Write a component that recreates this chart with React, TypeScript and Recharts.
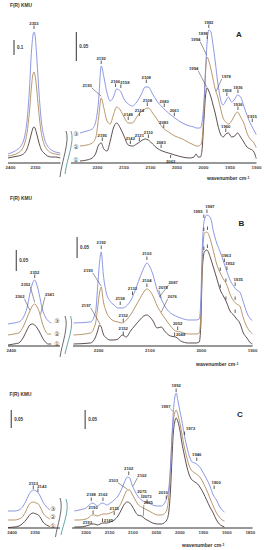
import React from 'react';
import { ComposedChart, Line, XAxis, YAxis, ReferenceLine, ReferenceDot } from 'recharts';

const BLUE = '#7f8ce0';
const BROWN = '#b08b5b';
const DARK = '#4d3b3b';
const INK = '#333';
const FONT = '"Liberation Sans", Arial, sans-serif';

// intensities are heights above each panel's baseline (arbitrary F(R) units, 0.05 ~ 21-29)

// ---- panel A ----
const aLeftWn = [2405, 2395, 2385, 2378, 2372, 2367, 2362, 2358, 2355, 2353, 2351, 2348, 2344, 2339, 2333, 2326, 2318, 2310, 2300];
const aLeft3 = [9, 11, 14, 18, 26, 42, 75, 112, 128, 131, 128, 110, 78, 45, 26, 17, 13, 11, 10];
const aLeft2 = [7, 8, 10, 13, 19, 30, 52, 77, 89, 91, 88, 76, 54, 32, 19, 13, 10, 9, 8];
const aLeft1 = [5, 6, 7, 8, 10, 14, 22, 30, 35, 36, 35, 30, 22, 14, 10, 7, 6, 6, 5];

const aRightWn = [2233, 2220, 2210, 2203, 2198, 2193, 2188, 2182, 2176, 2170, 2164, 2157, 2150, 2142, 2134, 2126, 2118, 2110, 2104, 2096, 2088, 2078, 2066, 2054, 2040, 2026, 2018, 2014, 2010, 2006, 2003, 1999, 1996, 1993, 1990, 1986, 1982, 1978, 1973, 1968, 1963, 1958, 1953, 1947, 1941, 1936, 1930, 1924, 1918, 1912, 1906, 1900];
const aRight3 = [30, 32, 34, 42, 62, 97, 86, 70, 62, 66, 74, 72, 64, 59, 57, 61, 68, 76, 76, 69, 62, 56, 50, 45, 40, 37, 36, 35, 35, 35, 40, 62, 95, 122, 133, 131, 118, 102, 80, 64, 58, 62, 66, 61, 64, 68, 66, 57, 48, 40, 34, 28];
const aRight2 = [17, 18, 20, 26, 45, 65, 55, 42, 39, 48, 56, 53, 46, 40, 40, 46, 51, 54, 55, 50, 44, 36, 31, 27, 24, 20, 18, 17, 17, 18, 22, 55, 92, 106, 102, 94, 84, 74, 66, 55, 45, 41, 39, 42, 48, 51, 46, 40, 30, 24, 21, 15];
const aRight1 = [2, 3, 5, 10, 18, 20, 14, 12, 22, 35, 40, 35, 27, 18, 17, 19, 22, 24, 23, 19, 15, 12, 10, 8, 6, 5, 6, 9, 6, 6, 12, 45, 68, 75, 72, 66, 58, 50, 38, 29, 26, 29, 30, 26, 27, 30, 26, 21, 16, 14, 12, 4];

// ---- panel B ----
const bLeftWn = [2407, 2395, 2385, 2375, 2368, 2362, 2357, 2352, 2347, 2342, 2337, 2330, 2324, 2318];
const bLeft3 = [22, 23, 24, 29, 38, 52, 62, 66, 60, 50, 38, 29, 25, 23];
const bLeft2 = [11, 12, 13, 20, 28, 35, 40, 42, 39, 33, 24, 15, 12, 12];
const bLeft1 = [1, 2, 3, 9, 16, 21, 22, 21, 18, 14, 9, 4, 2, 2];

const bRightWn = [2249, 2216, 2206, 2202, 2198, 2195, 2191, 2185, 2178, 2170, 2162, 2154, 2146, 2138, 2130, 2120, 2112, 2106, 2100, 2094, 2086, 2078, 2070, 2060, 2050, 2040, 2025, 2010, 2004, 2001, 1998, 1994, 1989, 1982, 1976, 1970, 1963, 1957, 1951, 1944, 1937, 1931, 1925, 1918, 1911, 1904, 1900];
const bRight3 = [23, 24, 34, 59, 85, 94, 72, 53, 45, 41, 38, 38, 40, 45, 54, 68, 78, 83, 79, 71, 56, 47, 39, 33, 30, 28, 26, 26, 27, 45, 99, 126, 131, 128, 114, 103, 94, 85, 76, 66, 60, 56, 54, 44, 33, 27, 25];
const bRight2 = [11, 13, 23, 38, 54, 59, 45, 34, 28, 25, 24, 23, 26, 31, 38, 47, 54, 57, 55, 50, 40, 33, 27, 20, 15, 14, 12, 12, 13, 30, 83, 113, 114, 106, 94, 82, 73, 67, 62, 52, 45, 42, 40, 28, 19, 14, 12];
const bRight1 = [2, 3, 9, 15, 21, 19, 12, 8, 6, 6, 7, 11, 9, 15, 20, 26, 30, 31, 29, 25, 18, 19, 14, 10, 9, 5, 3, 3, 4, 20, 76, 94, 96, 88, 78, 68, 56, 50, 44, 35, 31, 27, 23, 13, 8, 3, 2];

// ---- panel C ----
const cLeftWn = [2409, 2395, 2385, 2376, 2370, 2365, 2360, 2354, 2348, 2343, 2338, 2333, 2325, 2318];
const cLeft3 = [17, 17, 18, 22, 27, 32, 36, 38, 37, 35, 31, 26, 21, 18];
const cLeft2 = [8, 8, 9, 12, 17, 22, 25, 26, 25, 24, 20, 15, 11, 9];
const cLeft1 = [0.5, 1, 2, 5, 8, 11, 14, 15, 14, 13, 10, 6, 3, 1.5];

const cRightWn = [2225, 2215, 2200, 2193, 2188, 2182, 2176, 2170, 2164, 2156, 2148, 2140, 2132, 2125, 2118, 2112, 2107, 2102, 2096, 2090, 2082, 2074, 2066, 2058, 2048, 2040, 2034, 2028, 2024, 2020, 2017, 2014, 2011, 2008, 2004, 2000, 1996, 1991, 1986, 1980, 1974, 1968, 1962, 1956, 1950, 1943, 1936, 1929, 1922, 1916, 1910, 1905];
const cRight3 = [17, 18, 20, 23, 25, 24, 22, 24, 25, 23, 25, 28, 32, 38, 46, 51, 50, 43, 37, 32, 28, 26, 25, 23, 22, 22, 24, 30, 38, 62, 90, 116, 130, 135, 127, 117, 108, 94, 83, 72, 66, 65, 63, 60, 55, 49, 42, 33, 28, 22, 18, 16];
const cRight2 = [8, 8, 9, 11, 13, 13, 12, 13, 14, 14, 15, 17, 20, 25, 33, 38, 38, 34, 29, 24, 21, 19, 17, 15, 13, 13, 14, 18, 30, 58, 88, 107, 115, 118, 113, 105, 95, 82, 72, 62, 57, 55, 53, 50, 45, 38, 30, 22, 15, 11, 8, 7];
const cRight1 = [1, 1, 2, 3, 4, 4, 3, 4, 5, 5, 6, 8, 12, 18, 24, 26, 25, 22, 17, 13, 12, 9, 7, 5, 4, 4, 5, 8, 15, 38, 68, 95, 106, 110, 106, 98, 86, 74, 63, 53, 48, 46, 44, 40, 35, 28, 21, 15, 8, 4, 2, 1];

// ---- axis ticks ----
const ticksA = [2200, 2150, 2100, 2050, 2000, 1950, 1900];
const ticksB = [2200, 2100, 2000, 1900];
const ticksC = [2200, 2150, 2100, 2050, 2000, 1950, 1900, 1850];

// ---- peak labels ----
type Ann = { w: number; h: number; t: string; dx?: number; dy?: number; lead?: boolean; below?: boolean; bare?: boolean };

const aLeftAnn: Ann[] = [{ w: 2353, h: 133, t: '2353' }];
const aRightAnn: Ann[] = [
  { w: 2193, h: 98, t: '2192' },
  { w: 2193, h: 66, t: '2193', lead: true, dx: -14, dy: -10 },
  { w: 2166, h: 75, t: '2166' },
  { w: 2156, h: 74, t: '2158', dx: 4 },
  { w: 2108, h: 79, t: '2108' },
  { w: 2142, h: 42, t: '2148' },
  { w: 2121, h: 46, t: '2124' },
  { w: 2106, h: 56, t: '2108' },
  { w: 2074, h: 55, t: '2083' },
  { w: 2055, h: 46, t: '2061' },
  { w: 2075, h: 34, t: '2083' },
  { w: 2191, h: 21, t: '2195' },
  { w: 2138, h: 18, t: '2142' },
  { w: 2121, h: 21, t: '2121' },
  { w: 2104, h: 24, t: '2110' },
  { w: 2080, h: 14, t: '2083' },
  { w: 2062, h: 9, t: '2062', below: true },
  { w: 1990, h: 134, t: '1992' },
  { w: 1993, h: 123, t: '1998', dx: -4 },
  { w: 1994, h: 107, t: '1994', lead: true, dx: -11, dy: -15 },
  { w: 1994, h: 75, t: '1994', lead: true, dx: -13, dy: -18 },
  { w: 1976, h: 71, t: '1978', lead: true, dx: 10, dy: -14 },
  { w: 1956, h: 66, t: '1958' },
  { w: 1935, h: 69, t: '1936' },
  { w: 1935, h: 52, t: '1936' },
  { w: 1958, h: 30, t: '1960' },
  { w: 1908, h: 40, t: '1915' },
];

const bLeftAnn: Ann[] = [
  { w: 2352, h: 67, t: '2352' },
  { w: 2352, h: 43, t: '2352', lead: true, dx: -9, dy: -17 },
  { w: 2362, h: 35, t: '2362', lead: true, dx: -10, dy: -13 },
  { w: 2340, h: 31, t: '2341', lead: true, dx: 9, dy: -19 },
];
const bRightAnn: Ann[] = [
  { w: 2195, h: 96, t: '2192' },
  { w: 2195, h: 59, t: '2193', lead: true, dx: -13, dy: -15 },
  { w: 2197, h: 21, t: '2197', lead: true, dx: -14, dy: -18 },
  { w: 2158, h: 40, t: '2158' },
  { w: 2134, h: 50, t: '2133' },
  { w: 2106, h: 85, t: '2103' },
  { w: 2106, h: 58, t: '2104' },
  { w: 2078, h: 47, t: '2078', lead: true, dx: 2, dy: -10 },
  { w: 2082, h: 48, t: '2087', lead: true, dx: 14, dy: -14 },
  { w: 2078, h: 33, t: '2076', lead: true, dx: 11, dy: -15 },
  { w: 2152, h: 23, t: '2152' },
  { w: 2152, h: 10, t: '2152' },
  { w: 2046, h: 15, t: '2052' },
  { w: 2052, h: 9, t: '2048', dx: 6, dy: -1 },
  { w: 1995, h: 127, t: '1995', dx: -6 },
  { w: 1989, h: 132, t: '1987', dx: 3 },
  { w: 1955, h: 83, t: '1963', dx: 2 },
  { w: 1950, h: 75, t: '1952', dx: 3 },
  { w: 1934, h: 59, t: '1935', dx: 3 },
  { w: 1995, h: 114, t: '' },
  { w: 1988, h: 115, t: '' },
  { w: 1963, h: 74, t: '' },
  { w: 1952, h: 63, t: '' },
  { w: 1934, h: 45, t: '' },
  { w: 1995, h: 95, t: '' },
  { w: 1988, h: 97, t: '' },
  { w: 1963, h: 57, t: '' },
  { w: 1952, h: 45, t: '' },
  { w: 1934, h: 32, t: '' },
];

const cLeftAnn: Ann[] = [
  { w: 2354, h: 38, t: '2153' },
  { w: 2344, h: 35, t: '2143', dx: 4 },
];
const cRightAnn: Ann[] = [
  { w: 2189, h: 26, t: '2188' },
  { w: 2164, h: 26, t: '2162' },
  { w: 2109, h: 52, t: '2102' },
  { w: 2112, h: 38, t: '2103', lead: true, dx: -14, dy: -8 },
  { w: 2100, h: 41, t: '2102', lead: true, dx: 9, dy: -10 },
  { w: 2081, h: 29, t: '2075' },
  { w: 2070, h: 24, t: '2073' },
  { w: 2078, h: 11, t: '2065', lead: true, dx: 5, dy: -13 },
  { w: 2029, h: 28, t: '2010', dx: -3 },
  { w: 2185, h: 13, t: '2190' },
  { w: 2140, h: 12, t: '2135' },
  { w: 2193, h: 3, t: '2193', dx: -2, dy: -1, bare: true },
  { w: 2165, h: 5, t: '2165', dx: 6, dy: -1 },
  { w: 2008, h: 135, t: '1992' },
  { w: 2015, h: 116, t: '1997', lead: true, dx: -7, dy: -4 },
  { w: 1990, h: 92, t: '1972', dx: 6 },
  { w: 1964, h: 66, t: '1946' },
  { w: 1927, h: 38, t: '1900', dx: 2 },
];

type Bar = { w: number; lo: number; hi: number; t: string };

const toRows = (wn: number[], s1: number[], s2: number[], s3: number[]) =>
  wn.map((w, i) => ({ w, s1: s1[i], s2: s2[i], s3: s3[i] }));

const LBL = 4.2;

function PeakMark({ cx, cy, a }: { cx: number; cy: number; a: Ann }) {
  const tx = cx + (a.dx ?? 0);
  const label = (ty: number) =>
    a.t ? (
      <text x={tx} y={ty} textAnchor="middle" fontSize={LBL} fontWeight="bold" fill={INK}>
        {a.t}
      </text>
    ) : null;
  if (a.lead) {
    const ty = cy + (a.dy ?? -8);
    const sx = (a.dx ?? 0) < 0 ? tx + 4.5 : tx - 4.5;
    return (
      <g>
        <line x1={sx} y1={ty + 0.8} x2={cx} y2={cy - 0.8} stroke={INK} strokeWidth={0.5} />
        {label(ty)}
      </g>
    );
  }
  if (a.below) {
    return (
      <g>
        <line x1={cx} y1={cy + 1} x2={cx} y2={cy + 4} stroke={INK} strokeWidth={0.8} />
        {label(cy + (a.dy ?? 9))}
      </g>
    );
  }
  return (
    <g>
      {a.bare ? null : <line x1={cx} y1={cy - 4.5} x2={cx} y2={cy - 1} stroke={INK} strokeWidth={0.8} />}
      {label(cy + (a.dy ?? -5.5))}
    </g>
  );
}

type SpecProps = {
  x: number; axisY: number; w: number; h: number;
  domain: [number, number]; ticks: number[];
  rows: { w: number; s1: number; s2: number; s3: number }[];
  ann: Ann[]; bar: Bar; yLine?: boolean;
};

function Spectrum({ x, axisY, w, h, domain, ticks, rows, ann, bar, yLine }: SpecProps) {
  const mL = 6, mR = 8, mT = 14, axisH = 10;
  return (
    <div style={{ position: 'absolute', left: x - mL, top: axisY - h - mT }}>
      <ComposedChart width={w + mL + mR} height={h + mT + axisH} data={rows} margin={{ top: mT, right: mR, bottom: 0, left: mL }}>
        <XAxis
          type="number" dataKey="w" domain={domain} reversed allowDataOverflow
          ticks={ticks} interval={0} height={axisH} tickLine={false} tickSize={1} tickMargin={1.5}
          axisLine={{ stroke: INK, strokeWidth: 1.2 }}
          tick={{ fontSize: 4.4, fill: '#444', fontWeight: 'bold' }}
        />
        <YAxis width={0} domain={[0, h]} allowDataOverflow hide={!yLine} tick={false} tickLine={false} axisLine={{ stroke: INK, strokeWidth: 1 }} />
        <Line dataKey="s1" type="monotone" stroke={DARK} strokeWidth={0.9} dot={false} isAnimationActive={false} />
        <Line dataKey="s2" type="monotone" stroke={BROWN} strokeWidth={0.9} dot={false} isAnimationActive={false} />
        <Line dataKey="s3" type="monotone" stroke={BLUE} strokeWidth={0.9} dot={false} isAnimationActive={false} />
        <ReferenceLine
          segment={[{ x: bar.w, y: bar.lo }, { x: bar.w, y: bar.hi }]}
          stroke={INK} strokeWidth={1} ifOverflow="visible"
          label={{ value: bar.t, position: 'right', offset: 3, fontSize: 4.6, fill: INK, fontWeight: 'bold' }}
        />
        {ann.map((a, i) => (
          <ReferenceDot
            key={i} x={a.w} y={a.h} r={0} ifOverflow="visible"
            shape={(p: any) => <PeakMark cx={p.cx} cy={p.cy} a={a} />}
          />
        ))}
      </ComposedChart>
    </div>
  );
}

const Circled = ({ x, ys }: { x: number; ys: number[] }) => (
  <g fontSize={6} fill={INK} textAnchor="middle" dominantBaseline="central" fontFamily='"DejaVu Sans", "Noto Sans CJK JP", sans-serif'>
    <text x={x} y={ys[0]}>③</text>
    <text x={x} y={ys[1]}>②</text>
    <text x={x} y={ys[2]}>①</text>
  </g>
);

const Wavenumber = ({ x, y }: { x: number; y: number }) => (
  <text x={x} y={y} fontSize={5} fill={INK} fontWeight="bold">
    wavenumber  cm<tspan dy={-1.5} fontSize={3.6}>-1</tspan>
  </text>
);

export default function App() {
  return (
    <div style={{ position: 'absolute', left: 0, top: 0, width: 264, height: 550, background: '#fff', fontFamily: FONT, overflow: 'hidden' }}>
      <Spectrum x={8} axisY={163} w={52.5} h={160} domain={[2300, 2405]} ticks={[2400, 2350]}
        rows={toRows(aLeftWn, aLeft1, aLeft2, aLeft3)} ann={aLeftAnn} bar={{ w: 2393, lo: 108, hi: 123, t: '0.1' }} yLine />
      <Spectrum x={70.5} axisY={163} w={185.5} h={160} domain={[1900, 2250]} ticks={ticksA}
        rows={toRows(aRightWn, aRight1, aRight2, aRight3)} ann={aRightAnn} bar={{ w: 2240, lo: 102, hi: 131, t: '0.05' }} />

      <Spectrum x={8} axisY={346} w={52} h={151} domain={[2300, 2407]} ticks={[2400]}
        rows={toRows(bLeftWn, bLeft1, bLeft2, bLeft3)} ann={bLeftAnn} bar={{ w: 2390, lo: 75, hi: 96, t: '0.05' }} yLine />
      <Spectrum x={72.6} axisY={346} w={179.6} h={151} domain={[1900, 2250]} ticks={ticksB}
        rows={toRows(bRightWn, bRight1, bRight2, bRight3)} ann={bRightAnn} bar={{ w: 2242, lo: 88, hi: 109, t: '0.05' }} />

      <Spectrum x={8} axisY={528} w={52} h={137} domain={[2296, 2409]} ticks={[2400, 2350]}
        rows={toRows(cLeftWn, cLeft1, cLeft2, cLeft3)} ann={cLeftAnn} bar={{ w: 2402, lo: 100, hi: 118, t: '0.05' }} yLine />
      <Spectrum x={71.9} axisY={528} w={180.6} h={137} domain={[1845, 2230]} ticks={ticksC}
        rows={toRows(cRightWn, cRight1, cRight2, cRight3)} ann={cRightAnn} bar={{ w: 2202, lo: 99, hi: 118, t: '0.05' }} />

      <svg width={264} height={550} style={{ position: 'absolute', left: 0, top: 0, pointerEvents: 'none' }}>
        <g fontSize={4.8} fontWeight="bold" fill={INK}>
          <text x={10} y={6.5}>F(R)  KMU</text>
          <text x={10} y={200}>F(R)  KMU</text>
          <text x={9.5} y={396}>F(R)  KMU</text>
        </g>
        <g fontSize={8} fontWeight="bold" fill="#222" textAnchor="middle">
          <text x={239} y={37}>A</text>
          <text x={241.5} y={226}>B</text>
          <text x={240} y={417}>C</text>
        </g>
        <Circled x={76} ys={[133, 146, 159]} />
        <Circled x={57} ys={[320, 333, 343.5]} />
        <Circled x={53} ys={[508, 516.5, 525]} />
        <g fill="none" strokeWidth={0.8}>
          <path d="M66,131 C70,141 62,160 60,177" stroke="#444" />
          <path d="M71,131 C75,141 67,158 65,174" stroke="#3f8f8f" />
          <path d="M65,316 C69,326 62,344 60,357" stroke="#444" />
          <path d="M70.5,316 C74.5,326 67,343 65,354" stroke="#3f8f8f" />
          <path d="M60,498 C64,508 57,526 55.5,537" stroke="#444" />
          <path d="M66,499 C70,509 63,525 61,535" stroke="#3f8f8f" />
        </g>
        <Wavenumber x={207} y={180} />
        <Wavenumber x={196} y={366} />
        <Wavenumber x={182} y={547} />
      </svg>
    </div>
  );
}
